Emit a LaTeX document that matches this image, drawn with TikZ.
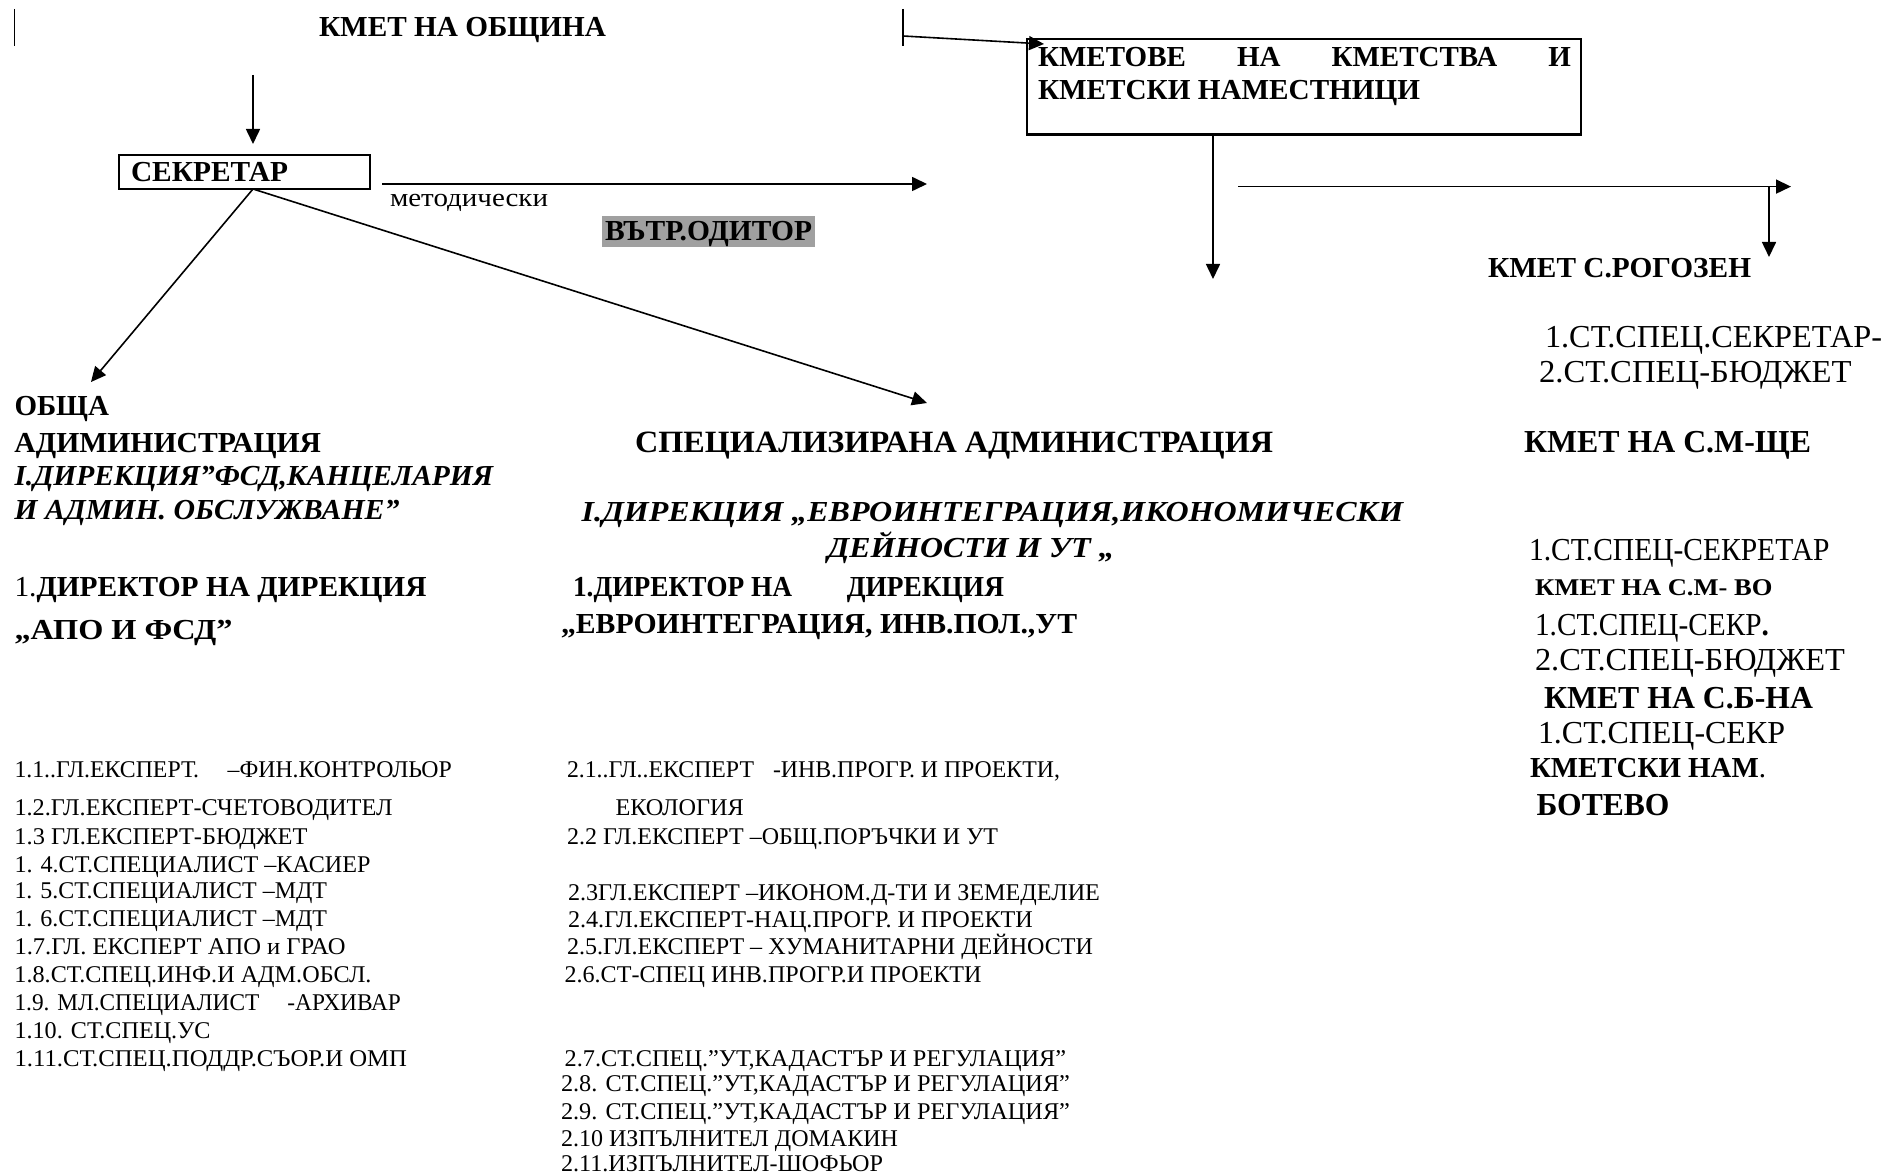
\documentclass[tikz,border=0pt]{standalone}
\usepackage{fontspec}
\setmainfont{Liberation Serif}
\usetikzlibrary{arrows.meta}
\newdimen\upx \upx=0.5pt
\newcommand\fw[2]{\resizebox{#1\upx}{\height}{#2}}
\definecolor{auditgray}{RGB}{160,160,160}
\tikzset{
  tx/.style={anchor=base west, inner sep=0pt, outer sep=0pt},
  hb/.style={tx, font=\fontsize{14.5}{17}\selectfont\bfseries},
  hbi/.style={tx, font=\fontsize{14.5}{17}\selectfont\bfseries\itshape},
  hbig/.style={tx, font=\fontsize{15.5}{18}\selectfont\bfseries},
  rreg/.style={tx, font=\fontsize{16}{19}\selectfont},
  rbold/.style={tx, font=\fontsize{16}{19}\selectfont\bfseries},
  lst/.style={tx, font=\fontsize{12}{14}\selectfont},
  lin/.style={line width=0.8pt},
  bar/.style={line width=0.9pt},
  arr/.style={lin, -{Triangle[length=7.5pt,width=7pt]}},
  frame/.style={draw, line width=1.2pt, anchor=north west, inner sep=0pt, outer sep=0pt},
}
\begin{document}
\begin{tikzpicture}[x=0.5pt,y=-0.5pt]
\useasboundingbox (0,0) rectangle (1900,1176);
% ---- top row
\coordinate (bl1) at (14.5,9); \coordinate (bl2) at (14.5,46);
\draw[bar] (bl1) -- (bl2);
\node[hb] (mayor) at (319,36.3) {\fw{287}{КМЕТ НА ОБЩИНА}};
\coordinate (br1) at (903,9); \coordinate (br2) at (903,46);
\draw[bar] (br1) -- (br2);
\coordinate (kst) at (903,36); \coordinate (ktip) at (1044,44);
\draw[arr] (kst) -- (ktip);
\node[frame, minimum width=277pt, minimum height=47.75pt] (kmbox) at (1027,39) {};
\node[hb] (kb1) at (1038,66.6) {\hbox to 533\upx{КМЕТОВЕ\hfill НА\hfill КМЕТСТВА\hfill И}};
\node[hb] (kb2) at (1038,99.3) {\fw{382}{КМЕТСКИ НАМЕСТНИЦИ}};
\coordinate (kd1) at (1213,134.5); \coordinate (kd2) at (1213,279);
\draw[arr] (kd1) -- (kd2);
\coordinate (hr1) at (1238,186.6); \coordinate (hr2) at (1791,186.6);
\draw[arr] (hr1) -- (hr2);
\coordinate (rd1) at (1769,186.6); \coordinate (rd2) at (1769,257);
\draw[arr] (rd1) -- (rd2);
\node[hb] (rogozen) at (1488,277.4) {\fw{263}{КМЕТ С.РОГОЗЕН}};
% ---- secretary
\coordinate (sd1) at (253,75); \coordinate (sd2) at (253,144);
\draw[arr] (sd1) -- (sd2);
\node[frame, minimum width=125.5pt, minimum height=17pt] (secbox) at (119,155) {};
\node[hb] (sec) at (131,181.6) {\fw{157}{СЕКРЕТАР}};
\coordinate (mt1) at (382,184); \coordinate (mt2) at (927,184);
\draw[arr] (mt1) -- (mt2);
\node[tx, font=\fontsize{13}{15}\selectfont] (metod) at (390,207) {\fw{158}{методически}};
\fill[auditgray] (602,216) rectangle (815,247);
\node[hb] (audit) at (605,241) {\fw{207}{ВЪТР.ОДИТОР}};
\coordinate (sfork) at (253,189);
\coordinate (obtip) at (91,382); \coordinate (sptip) at (927,403);
\draw[arr] (sfork) -- (obtip);
\draw[arr] (sfork) -- (sptip);
% ---- left headings
\node[hb] (ob1) at (14.5,415.6) {\fw{94.5}{ОБЩА}};
\node[hb] (ob2) at (14.5,452) {\fw{306.6}{АДИМИНИСТРАЦИЯ}};
\node[hbi] (ob3) at (14.5,485.8) {\fw{478.6}{I.ДИРЕКЦИЯ”ФСД,КАНЦЕЛАРИЯ}};
\node[hbi] (ob4) at (14.5,519.7) {\fw{385}{И АДМИН. ОБСЛУЖВАНЕ”}};
\node[hb] (ob5) at (14.5,596) {\fw{412}{{\mdseries 1.}ДИРЕКТОР НА ДИРЕКЦИЯ}};
\node[hb] (ob6) at (14.5,639.7) {\fw{218}{„АПО И ФСД”}};
% ---- middle headings
\node[hbig] (sp1) at (635,452.6) {\fw{638}{СПЕЦИАЛИЗИРАНА АДМИНИСТРАЦИЯ}};
\node[hbi] (sp2) at (581.6,521) {\fw{821.6}{I.ДИРЕКЦИЯ „ЕВРОИНТЕГРАЦИЯ,ИКОНОМИЧЕСКИ}};
\node[hbi] (sp3) at (827.6,557.3) {\fw{287}{ДЕЙНОСТИ И УТ „}};
\node[hb] (sp4) at (573,596) {\fw{431}{1.ДИРЕКТОР НА\hspace{2em}ДИРЕКЦИЯ}};
\node[hb] (sp5) at (561,633.6) {\fw{516}{„ЕВРОИНТЕГРАЦИЯ, ИНВ.ПОЛ.,УТ}};
% ---- right column
\node[rreg] (r1) at (1545,347.5) {\fw{337}{1.СТ.СПЕЦ.СЕКРЕТАР-}};
\node[rreg] (r2) at (1539,382.6) {\fw{312.6}{2.СТ.СПЕЦ-БЮДЖЕТ}};
\node[rbold] (r3) at (1524,452.9) {\fw{287}{КМЕТ НА С.М-ЩЕ}};
\node[rreg] (r4) at (1529,560.6) {\fw{300.5}{1.СТ.СПЕЦ-СЕКРЕТАР}};
\node[tx, font=\fontsize{12}{14}\selectfont\bfseries] (r5) at (1535,595.7) {\fw{237.5}{КМЕТ НА С.М- ВО}};
\node[rreg] (r6) at (1535,635.6) {\fw{234}{1.СТ.СПЕЦ-СЕКР\textbf{.}}};
\node[rreg] (r7) at (1535,670.6) {\fw{310}{2.СТ.СПЕЦ-БЮДЖЕТ}};
\node[rbold] (r8) at (1544,708.6) {\fw{269}{КМЕТ НА С.Б-НА}};
\node[rreg] (r9) at (1538,743.6) {\fw{247}{1.СТ.СПЕЦ-СЕКР}};
\node[tx, font=\fontsize{14.5}{17}\selectfont\bfseries] (r10) at (1530,777.6) {\fw{236}{КМЕТСКИ НАМ{\mdseries .}}};
\node[rbold] (r11) at (1536.5,815.2) {\fw{133}{БОТЕВО}};
% ---- left list
\node[lst] (l1) at (14.5,777.4) {\fw{437.4}{1.1..ГЛ.ЕКСПЕРТ.\hspace{1.2em}–ФИН.КОНТРОЛЬОР}};
\node[lst] (l2) at (14.5,815) {\fw{378}{1.2.ГЛ.ЕКСПЕРТ-СЧЕТОВОДИТЕЛ}};
\node[lst] (l3) at (14.5,844) {\fw{293}{1.3 ГЛ.ЕКСПЕРТ-БЮДЖЕТ}};
\node[lst] (l4) at (14.5,872) {\fw{356}{1. 4.СТ.СПЕЦИАЛИСТ –КАСИЕР}};
\node[lst] (l5) at (14.5,898.6) {\fw{312.6}{1. 5.СТ.СПЕЦИАЛИСТ –МДТ}};
\node[lst] (l6) at (14.5,926.5) {\fw{312.6}{1. 6.СТ.СПЕЦИАЛИСТ –МДТ}};
\node[lst] (l7) at (14.5,954) {\fw{331}{1.7.ГЛ. ЕКСПЕРТ АПО и ГРАО}};
\node[lst] (l8) at (14.5,982) {\fw{357}{1.8.СТ.СПЕЦ.ИНФ.И АДМ.ОБСЛ.}};
\node[lst] (l9) at (14.5,1010) {\fw{386.5}{1.9. МЛ.СПЕЦИАЛИСТ\hspace{1.2em}-АРХИВАР}};
\node[lst] (l10) at (14.5,1038) {\fw{196}{1.10. СТ.СПЕЦ.УС}};
\node[lst] (l11) at (14.5,1066) {\fw{392.6}{1.11.СТ.СПЕЦ.ПОДДР.СЪОР.И ОМП}};
% ---- middle list
\node[lst] (m1) at (567,777.4) {\fw{493}{2.1..ГЛ..ЕКСПЕРТ\hspace{0.8em}-ИНВ.ПРОГР. И ПРОЕКТИ,}};
\node[lst] (m1b) at (615.5,815) {\fw{128.4}{ЕКОЛОГИЯ}};
\node[lst] (m2) at (567,844) {\fw{431}{2.2 ГЛ.ЕКСПЕРТ –ОБЩ.ПОРЪЧКИ И УТ}};
\node[lst] (m3) at (568,900) {\fw{532}{2.3ГЛ.ЕКСПЕРТ –ИКОНОМ.Д-ТИ И ЗЕМЕДЕЛИЕ}};
\node[lst] (m4) at (568,927.7) {\fw{465}{2.4.ГЛ.ЕКСПЕРТ-НАЦ.ПРОГР. И ПРОЕКТИ}};
\node[lst] (m5) at (567,954) {\fw{526}{2.5.ГЛ.ЕКСПЕРТ – ХУМАНИТАРНИ ДЕЙНОСТИ}};
\node[lst] (m6) at (564.6,982) {\fw{417}{2.6.СТ-СПЕЦ ИНВ.ПРОГР.И ПРОЕКТИ}};
\node[lst] (m7) at (564.6,1066) {\fw{501.6}{2.7.СТ.СПЕЦ.”УТ,КАДАСТЪР И РЕГУЛАЦИЯ”}};
\node[lst] (m8) at (561,1091) {\fw{509}{2.8. СТ.СПЕЦ.”УТ,КАДАСТЪР И РЕГУЛАЦИЯ”}};
\node[lst] (m9) at (561,1119) {\fw{509}{2.9. СТ.СПЕЦ.”УТ,КАДАСТЪР И РЕГУЛАЦИЯ”}};
\node[lst] (m10) at (561,1146) {\fw{337}{2.10 ИЗПЪЛНИТЕЛ ДОМАКИН}};
\node[lst] (m11) at (561,1171) {\fw{322}{2.11.ИЗПЪЛНИТЕЛ-ШОФЬОР}};
\end{tikzpicture}
\end{document}
